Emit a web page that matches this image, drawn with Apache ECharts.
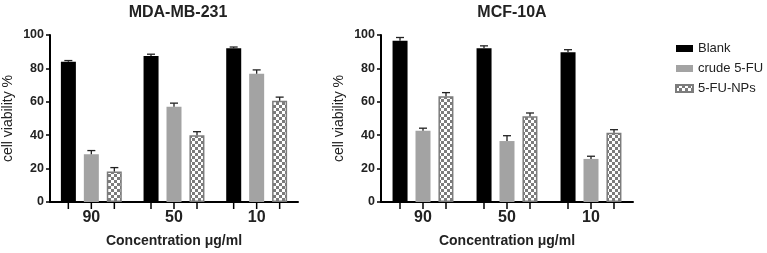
<!DOCTYPE html>
<html>
<head>
<meta charset="utf-8">
<script src="https://cdn.jsdelivr.net/npm/echarts@6/dist/echarts.min.js"></script>
<style>
  html, body { margin: 0; padding: 0; background: #fff; }
  #chart { width: 767px; height: 253px; }
</style>
</head>
<body>
<div id="chart"></div>
<script>
// concentrations (ug/ml) on the x axis
var concentrations = ['90', '50', '10'];
var seriesNames = ['Blank', 'crude 5-FU', '5-FU-NPs'];

// MDA-MB-231 : mean cell viability % and upper error
var mdaBlank = [84, 87.5, 92];
var mdaBlankErr = [0.7, 1, 0.8];
var mdaCrude = [28.6, 57, 76.8];
var mdaCrudeErr = [2.2, 2.2, 2.3];
var mdaNps = [18.3, 40, 60.7];
var mdaNpsErr = [2.3, 2.1, 2.1];

// MCF-10A
var mcfBlank = [96.5, 92, 89.6];
var mcfBlankErr = [2, 1.5, 1.6];
var mcfCrude = [42.7, 36.5, 25.8];
var mcfCrudeErr = [1.5, 3.2, 1.6];
var mcfNps = [63.3, 51.3, 41.5];
var mcfNpsErr = [2.2, 2, 1.8];

var FONT = 'Liberation Sans';
var BAR_W = 15, BAR_STEP = 23;

// checker pattern for the NPs bars
function checker() {
    var c = document.createElement('canvas');
    c.width = 6; c.height = 6;
    var ctx = c.getContext('2d');
    ctx.fillStyle = '#ffffff';
    ctx.fillRect(0, 0, 6, 6);
    ctx.fillStyle = '#7c7c7c';
    ctx.fillRect(0, 0, 3, 3);
    ctx.fillRect(3, 3, 3, 3);
    return c;
}
var pattern = { image: checker(), repeat: 'repeat' };

var colors = ['#000000', '#a3a3a3', pattern];

function barSeries(name, data, gi, k) {
    return {
        name: name,
        type: 'bar',
        xAxisIndex: gi, yAxisIndex: gi,
        data: data,
        barWidth: BAR_W,
        barGap: '53%',
        itemStyle: k === 2 ? { color: pattern, borderColor: '#7c7c7c', borderWidth: 1.5 } : { color: colors[k] },
        z: 2
    };
}

// error bar (upper half) + the tick under each bar
function errSeries(vals, errs, gi, k) {
    var d = vals.map(function (v, i) { return [i, v, errs[i]]; });
    return {
        type: 'custom',
        xAxisIndex: gi, yAxisIndex: gi,
        data: d,
        z: 5,
        silent: true,
        renderItem: function (params, api) {
            var i = api.value(0);
            var off = (k - 1) * BAR_STEP;
            var top = api.coord([i, api.value(1) + api.value(2)]);
            var mid = api.coord([i, api.value(1)]);
            var base = api.coord([i, 0]);
            var x = top[0] + off;
            var st = { stroke: '#222', lineWidth: 1.3 };
            return {
                type: 'group',
                children: [
                    { type: 'line', shape: { x1: x, y1: mid[1], x2: x, y2: top[1] }, style: st },
                    { type: 'line', shape: { x1: x - 4, y1: top[1], x2: x + 4, y2: top[1] }, style: st },
                    { type: 'line', shape: { x1: x, y1: base[1], x2: x, y2: base[1] + 7 }, style: { stroke: '#000', lineWidth: 1.5 } }
                ]
            };
        }
    };
}

function xAxis(gi) {
    return {
        type: 'category', gridIndex: gi, data: concentrations,
        name: 'Concentration μg/ml', nameLocation: 'middle', nameGap: 32,
        nameTextStyle: { fontFamily: FONT, fontWeight: 'bold', fontSize: 14, color: '#222' },
        axisLine: { lineStyle: { color: '#000', width: 2 } },
        axisTick: { show: false },
        axisLabel: { fontFamily: FONT, fontWeight: 'bold', fontSize: 16, color: '#222', margin: 8 }
    };
}

function yAxis(gi) {
    return {
        type: 'value', gridIndex: gi, min: 0, max: 100, interval: 20,
        name: 'cell viability %', nameLocation: 'middle', nameGap: 35,
        nameTextStyle: { fontFamily: FONT, fontSize: 14, color: '#222' },
        axisLine: { show: true, lineStyle: { color: '#000', width: 2 } },
        axisTick: { show: true, length: 4, lineStyle: { color: '#000', width: 1.5 } },
        axisLabel: { fontFamily: FONT, fontWeight: 'bold', fontSize: 12.5, color: '#222', margin: 6 },
        splitLine: { show: false }
    };
}

var chart = echarts.init(document.getElementById('chart'));
chart.setOption({
    animation: false,
    backgroundColor: '#fff',
    title: [
        { text: 'MDA-MB-231', left: 173, top: 0, textAlign: 'center',
          textStyle: { fontFamily: FONT, fontWeight: 'bold', fontSize: 16, color: '#222' } },
        { text: 'MCF-10A', left: 507, top: 0, textAlign: 'center',
          textStyle: { fontFamily: FONT, fontWeight: 'bold', fontSize: 16, color: '#222' } }
    ],
    legend: {
        data: seriesNames, orient: 'vertical', left: 670, top: 37,
        icon: 'rect', itemWidth: 17, itemHeight: 7, itemGap: 7,
        textStyle: { fontFamily: FONT, fontSize: 13, color: '#222' }
    },
    grid: [
        { left: 48, top: 35, width: 250, height: 168 },
        { left: 381, top: 35, width: 252, height: 167 }
    ],
    xAxis: [xAxis(0), xAxis(1)],
    yAxis: [yAxis(0), yAxis(1)],
    series: [
        barSeries(seriesNames[0], mdaBlank, 0, 0),
        barSeries(seriesNames[1], mdaCrude, 0, 1),
        barSeries(seriesNames[2], mdaNps, 0, 2),
        barSeries(seriesNames[0], mcfBlank, 1, 0),
        barSeries(seriesNames[1], mcfCrude, 1, 1),
        barSeries(seriesNames[2], mcfNps, 1, 2),
        errSeries(mdaBlank, mdaBlankErr, 0, 0),
        errSeries(mdaCrude, mdaCrudeErr, 0, 1),
        errSeries(mdaNps, mdaNpsErr, 0, 2),
        errSeries(mcfBlank, mcfBlankErr, 1, 0),
        errSeries(mcfCrude, mcfCrudeErr, 1, 1),
        errSeries(mcfNps, mcfNpsErr, 1, 2)
    ]
});
</script>
</body>
</html>
